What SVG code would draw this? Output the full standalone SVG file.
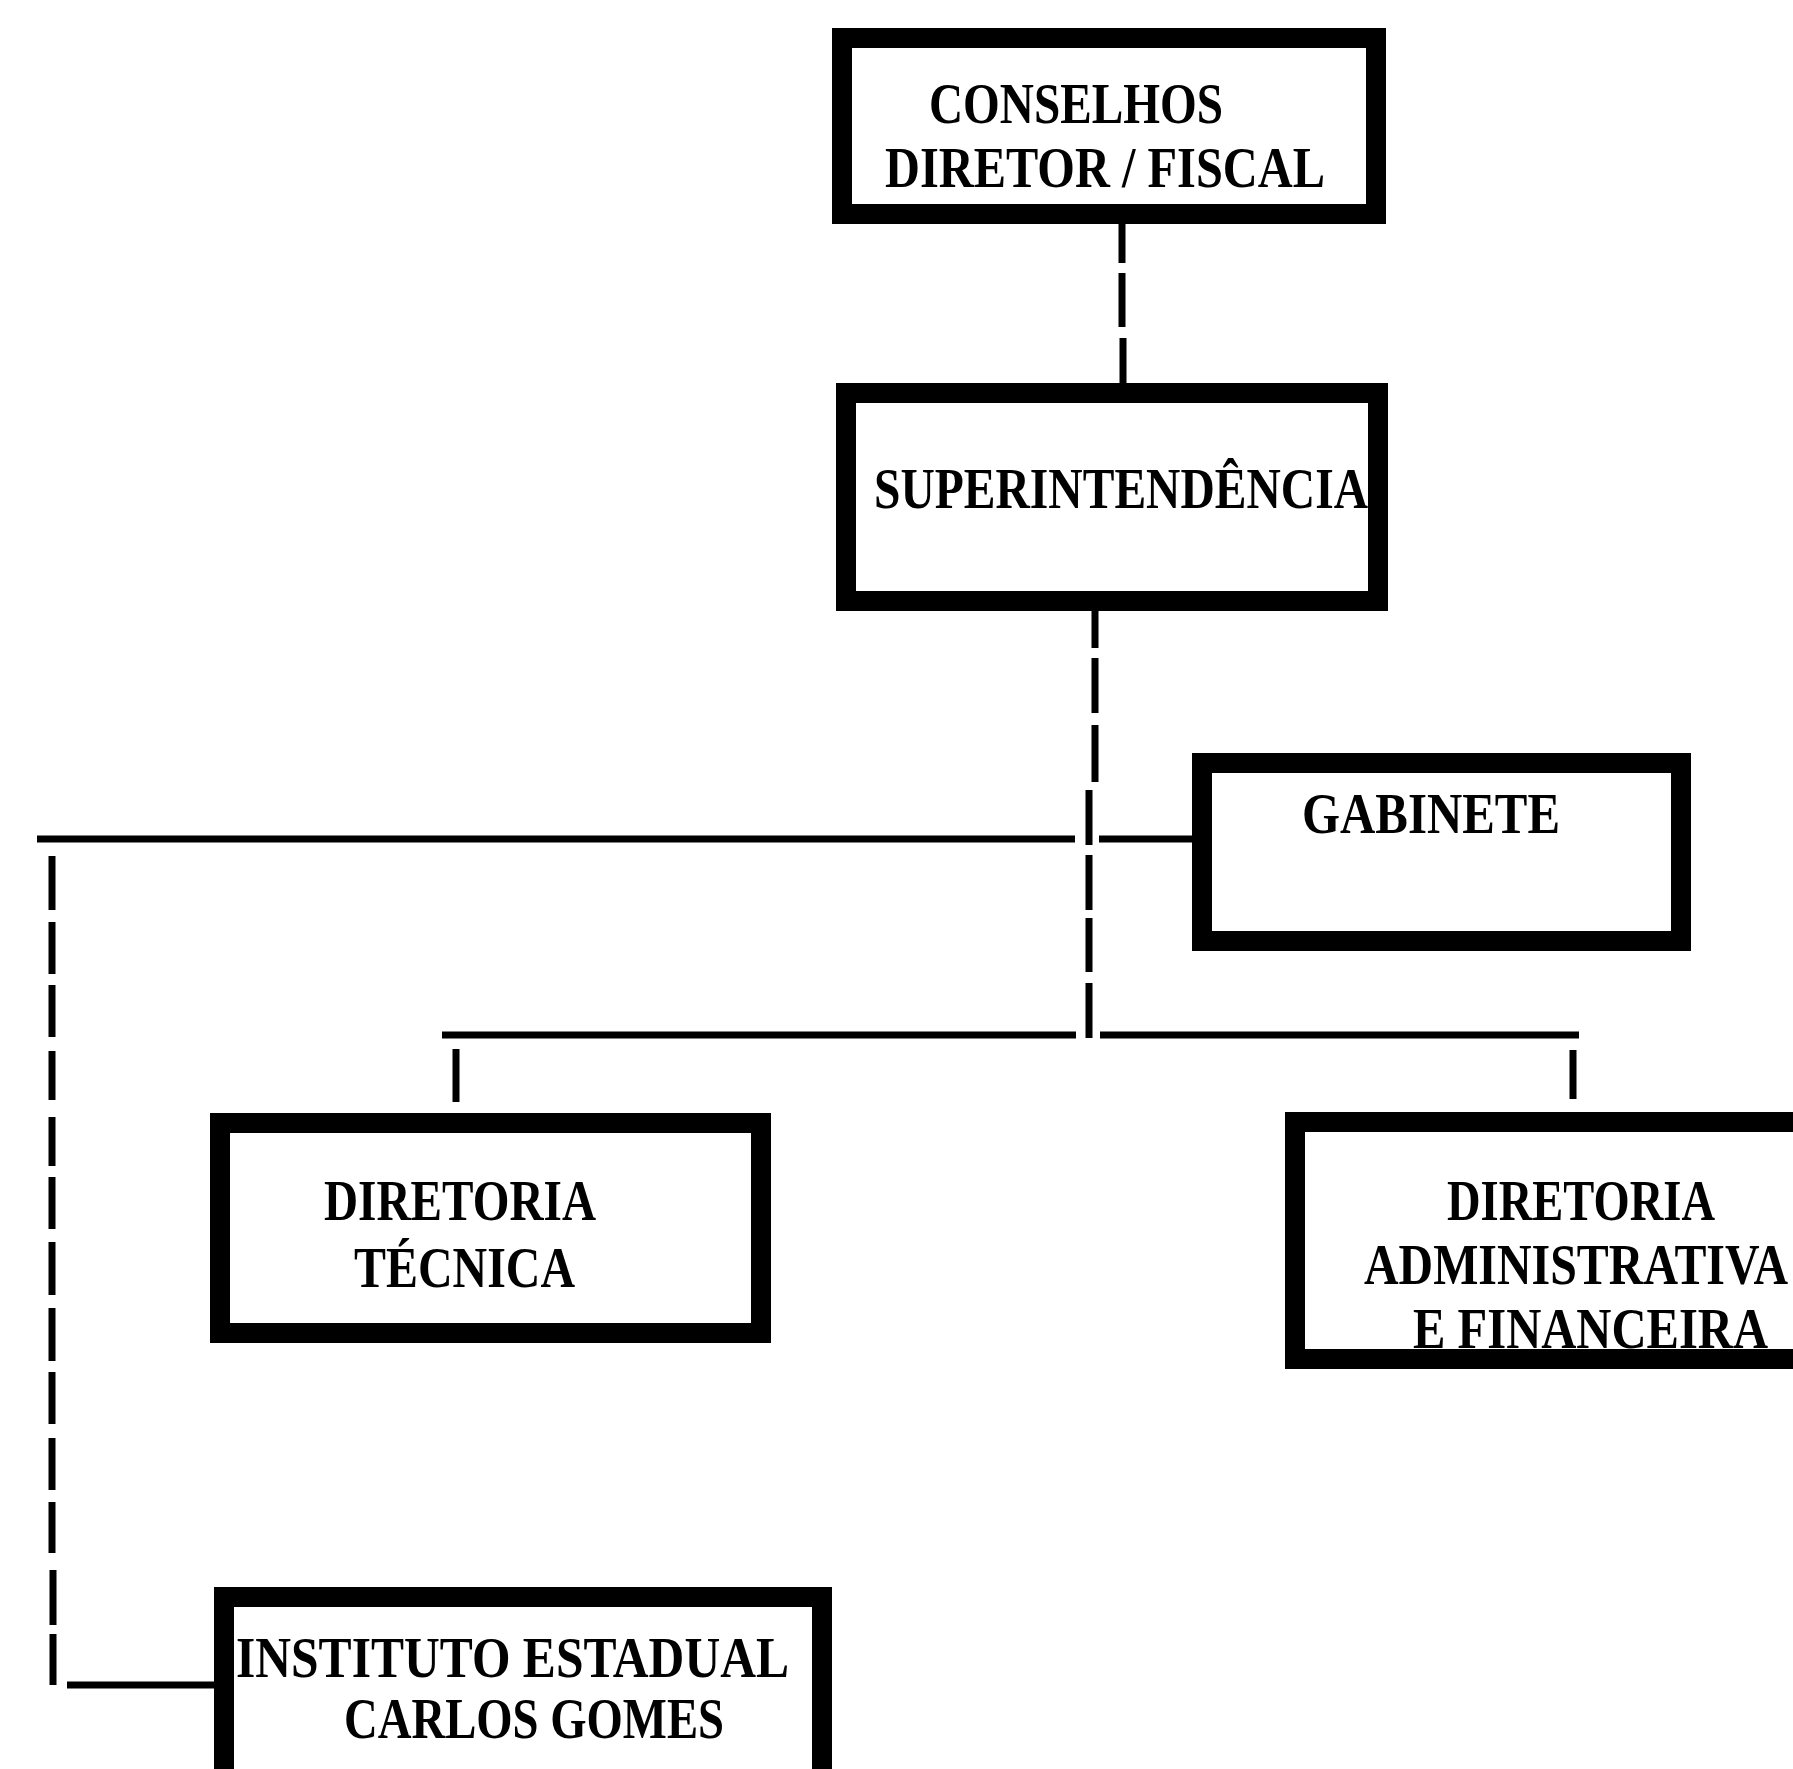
<svg xmlns="http://www.w3.org/2000/svg" width="1793" height="1769" viewBox="0 0 1793 1769">
<style>
.box{fill:#fff;stroke:#000;stroke-width:20}
.t{font-family:"Liberation Serif","Times New Roman",serif;font-weight:bold;font-size:57px;fill:#000}
.c{fill:none;stroke:#000;stroke-width:7}
</style>
<rect width="1793" height="1769" fill="#fff"/>
<g id="connectors">
<path class="c" d="M1122 223V263M1122 273V327M1123 338V385"/>
<path class="c" d="M1095 610V648M1095 658V713M1095 725V782M1089 790V845M1089 855V910M1089 918V972M1089 983V1038"/>
<path class="c" d="M37 839H1075M1099 839H1194"/>
<path class="c" stroke-width="8" d="M52 856V910M52 922V974M52 985V1037M52 1051V1100M52 1117V1166M52 1177V1229M52 1242V1295M52 1308V1361M52 1372V1424M52 1438V1490M52 1502V1553M53 1570V1625M53 1634V1685"/>
<path class="c" d="M67 1685H216"/>
<path class="c" d="M442 1035H1076M1100 1035H1579"/>
<path class="c" d="M456 1049V1102M1573 1050V1099"/>
</g>
<g id="conselhos">
<rect class="box" x="842" y="38" width="534" height="176"/>
<text class="t" x="929" y="123" textLength="294" lengthAdjust="spacingAndGlyphs">CONSELHOS</text>
<text class="t" x="885" y="187" textLength="440" lengthAdjust="spacingAndGlyphs">DIRETOR / FISCAL</text>
</g>
<g id="superintendencia">
<rect class="box" x="846" y="393" width="532" height="208"/>
<text class="t" x="874" y="508" textLength="494" lengthAdjust="spacingAndGlyphs">SUPERINTENDÊNCIA</text>
</g>
<g id="gabinete">
<rect class="box" x="1202" y="763" width="479" height="178"/>
<text class="t" x="1302" y="833" textLength="258" lengthAdjust="spacingAndGlyphs">GABINETE</text>
</g>
<g id="diretoria-tecnica">
<rect class="box" x="220" y="1123" width="541" height="210"/>
<text class="t" x="324" y="1220" textLength="272" lengthAdjust="spacingAndGlyphs">DIRETORIA</text>
<text class="t" x="354" y="1287" textLength="221" lengthAdjust="spacingAndGlyphs">TÉCNICA</text>
</g>
<g id="diretoria-administrativa">
<rect class="box" x="1295" y="1122" width="520" height="237"/>
<text class="t" x="1447" y="1220" textLength="268" lengthAdjust="spacingAndGlyphs">DIRETORIA</text>
<text class="t" x="1364" y="1284" textLength="424" lengthAdjust="spacingAndGlyphs">ADMINISTRATIVA</text>
<text class="t" x="1413" y="1348" textLength="355" lengthAdjust="spacingAndGlyphs">E FINANCEIRA</text>
</g>
<g id="instituto">
<rect class="box" x="224" y="1597" width="598" height="190"/>
<text class="t" x="236" y="1677" textLength="553" lengthAdjust="spacingAndGlyphs">INSTITUTO ESTADUAL</text>
<text class="t" x="344" y="1738" textLength="380" lengthAdjust="spacingAndGlyphs">CARLOS GOMES</text>
</g>
</svg>
